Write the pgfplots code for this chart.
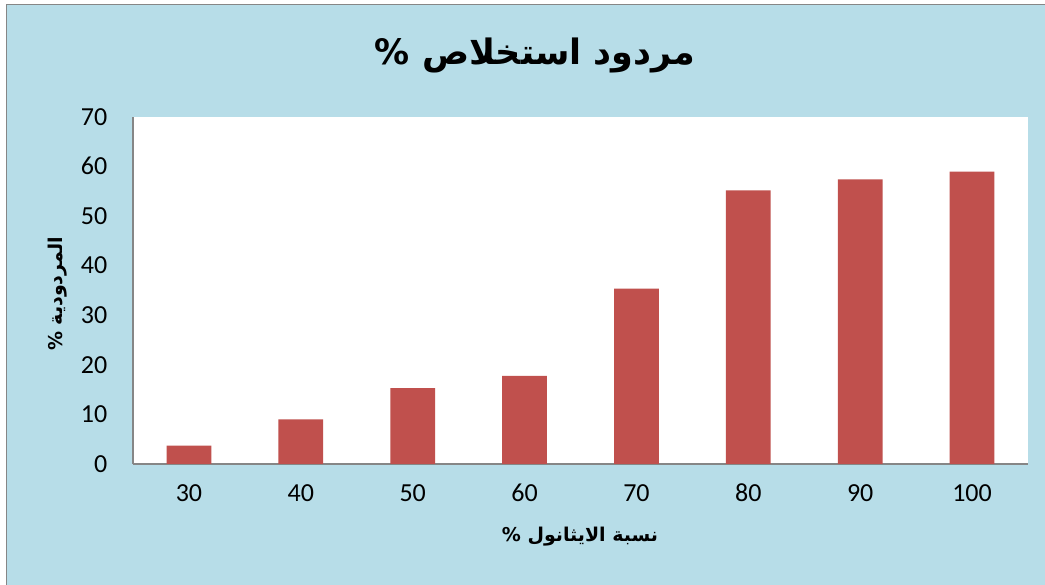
\documentclass[border=0pt]{standalone}
\usepackage{pgfplots}
\pgfplotsset{compat=1.18}
\usepackage{fontspec}
\setmainfont{Carlito}
\newfontfamily\arabicfont[Script=Arabic]{DejaVu Sans}
\TeXXeTstate=1
\definecolor{bgblue}{HTML}{B7DDE8}
\definecolor{barred}{HTML}{C0504D}
\definecolor{axisgray}{HTML}{868686}
\begin{document}
\begin{tikzpicture}[x=1pt,y=1pt]
  % chart area with its frame
  \useasboundingbox (0,0) rectangle (1045,585);
  \fill[white] (0,0) rectangle (1045,585);
  \fill[bgblue] (6,0) rectangle (1045,581);
  \draw[axisgray, line width=1.5pt] (6.5,0) -- (6.5,580.5) -- (1045,580.5);
  \begin{axis}[
    at={(133pt,121pt)}, anchor=south west,
    scale only axis, width=895pt, height=347pt,
    xmin=-0.5, xmax=7.5, ymin=0, ymax=70,
    ytick distance=10,
    xtick=data,
    xticklabels={30,40,50,60,70,80,90,100},
    axis x line*=bottom, axis y line*=left,
    axis line style={axisgray, line width=1.2pt, -},
    major tick length=0pt,
    axis background/.style={fill=white},
    tick label style={font=\fontsize{26}{30}\selectfont, black,
      inner sep=0pt, text height=16.5pt, text depth=0pt},
    /pgf/number format/assume math mode=true,
    yticklabel style={anchor=east, xshift=-25.5pt},
    xticklabel style={anchor=north, yshift=-20.5pt},
    clip=false,
  ]
    \addplot[ybar, bar width=44.7pt, fill=barred, draw=none]
      coordinates {(0,3.7) (1,9.0) (2,15.3) (3,17.8) (4,35.4) (5,55.2) (6,57.4) (7,59.0)};
  \end{axis}
  % titles
  \node[font=\arabicfont\bfseries\fontsize{35}{41}\selectfont] at (535,530) {\beginR مردود استخلاص \%\endR};
  \node[font=\arabicfont\bfseries\fontsize{19}{23}\selectfont] at (580,48) {\beginR نسبة الايثانول \%\endR};
  \node[rotate=90, font=\arabicfont\bfseries\fontsize{19}{23}\selectfont] at (58,291) {\beginR المردودية \%\endR};
\end{tikzpicture}
\end{document}
